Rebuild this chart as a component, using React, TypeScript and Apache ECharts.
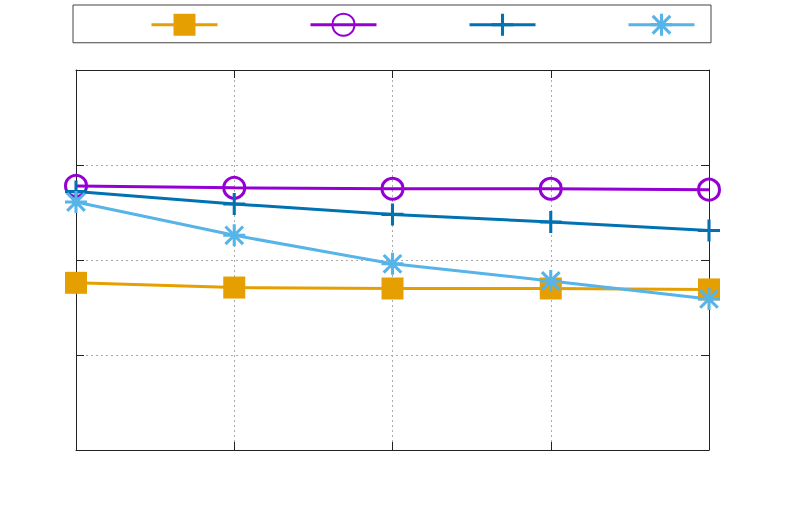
import React, { useEffect, useRef } from "react";
import * as echarts from "echarts";

const categories = ["1", "2", "3", "4", "5"];
const seriesNames = ["A", "B", "C", "D"];
const orangeValues = [1.76, 1.71, 1.7, 1.7, 1.69];
const purpleValues = [2.78, 2.76, 2.75, 2.75, 2.74];
const darkBlueValues = [2.72, 2.59, 2.48, 2.4, 2.31];
const lightBlueValues = [2.61, 2.26, 1.96, 1.78, 1.59];

const PLUS =
  "path://M43,0 L57,0 L57,100 L43,100 Z M0,43 L100,43 L100,57 L0,57 Z";
const STAR =
  "path://M43,0 L57,0 L57,100 L43,100 Z M0,43 L100,43 L100,57 L0,57 Z " +
  "M14.95,5.05 L94.95,85.05 L85.05,94.95 L5.05,14.95 Z " +
  "M85.05,5.05 L94.95,14.95 L14.95,94.95 L5.05,85.05 Z";

export default function App() {
  const ref = useRef<HTMLDivElement>(null);
  useEffect(() => {
    if (!ref.current) return;
    const chart = echarts.init(ref.current, undefined, { renderer: "svg" });
    const axisLine = () => ({ show: true, onZero: false, lineStyle: { color: "#222", width: 1 } });
    const tick = () => ({ show: true, inside: true, length: 8, lineStyle: { color: "#222", width: 1 } });
    const mk = (name: string, data: number[], color: string, symbol: string, size: number, extra: any = {}) => ({
      name,
      type: "line",
      data,
      symbol,
      symbolSize: size,
      showSymbol: true,
      lineStyle: { color, width: 3 },
      itemStyle: { color, borderColor: color, borderWidth: 0, ...(extra.itemStyle || {}) },
      emphasis: { disabled: true },
    });
    chart.setOption({
      animation: false,
      backgroundColor: "#fff",
      grid: { left: 76, right: 76, top: 70, bottom: 73 },
      legend: {
        show: true,
        left: 73,
        top: 5,
        padding: [6, 15, 6, 77],
        itemWidth: 66,
        itemHeight: 27.5,
        itemGap: 90,
        borderColor: "#444",
        borderWidth: 1,
        backgroundColor: "#fff",
        lineStyle: { width: 3 },
        formatter: () => "",
        data: seriesNames,
        selectedMode: false,
      },
      xAxis: [
        {
          type: "category",
          data: categories,
          boundaryGap: false,
          axisLine: axisLine(),
          axisTick: tick(),
          axisLabel: { show: false },
          splitLine: { show: true, lineStyle: { color: "#aaa", type: [2, 3], width: 1 } },
        },
        {
          type: "category",
          data: categories,
          boundaryGap: false,
          position: "top",
          axisLine: axisLine(),
          axisTick: tick(),
          axisLabel: { show: false },
          splitLine: { show: false },
        },
      ],
      yAxis: [
        {
          type: "value",
          min: 0,
          max: 4,
          interval: 1,
          axisLine: axisLine(),
          axisTick: tick(),
          axisLabel: { show: false },
          splitLine: { show: true, lineStyle: { color: "#aaa", type: [2, 3], width: 1 } },
        },
        {
          type: "value",
          min: 0,
          max: 4,
          interval: 1,
          position: "right",
          axisLine: axisLine(),
          axisTick: tick(),
          axisLabel: { show: false },
          splitLine: { show: false },
        },
      ],
      series: [
        mk(seriesNames[0], orangeValues, "#E69F00", "rect", 22),
        mk(seriesNames[1], purpleValues, "#9400D3", "circle", 21, {
          itemStyle: { color: "rgba(0,0,0,0)", borderColor: "#9400D3", borderWidth: 3 },
        }),
        mk(seriesNames[2], darkBlueValues, "#0072B2", PLUS, 22),
        mk(seriesNames[3], lightBlueValues, "#56B4E9", STAR, 22),
      ],
    });
    return () => chart.dispose();
  }, []);
  return <div ref={ref} style={{ width: 785, height: 523, position: "absolute", left: 0, top: 0 }} />;
}
